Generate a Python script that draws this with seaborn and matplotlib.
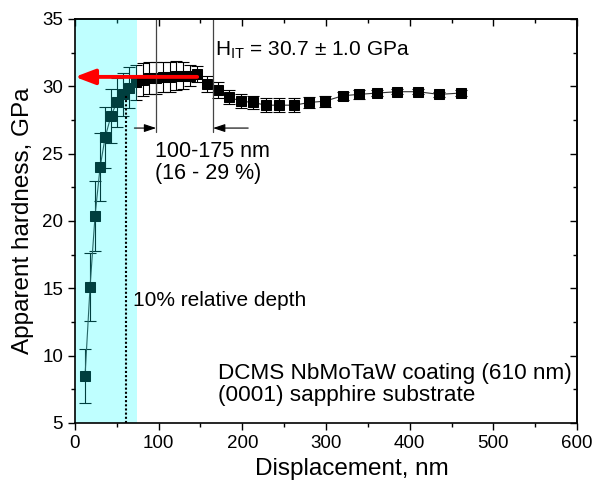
import matplotlib
matplotlib.use("Agg")
import matplotlib.pyplot as plt
import seaborn as sns
import pandas as pd
from matplotlib.ticker import MultipleLocator

# Nanoindentation hardness profile
displacement_nm = [12, 18, 24, 30, 36, 43, 50, 57, 65, 73, 81, 89, 97, 105, 113,
                   121, 129, 137, 146, 158, 171, 184, 198, 213, 228, 244, 262,
                   280, 299, 320, 339, 361, 385, 410, 435, 461]
hardness_gpa = [8.5, 15.1, 20.4, 24.0, 26.2, 27.8, 28.8, 29.4, 29.9, 30.3, 30.5,
                30.6, 30.6, 30.7, 30.7, 30.8, 30.8, 30.8, 30.9, 30.2, 29.7, 29.2,
                28.9, 28.8, 28.6, 28.6, 28.6, 28.8, 28.9, 29.3, 29.4, 29.5, 29.6,
                29.6, 29.4, 29.5]
hardness_err = [2.0, 2.5, 2.6, 2.5, 2.3, 2.0, 1.8, 1.6, 1.5, 1.3, 1.2, 1.2, 1.2,
                1.1, 1.1, 1.1, 1.0, 0.8, 0.6, 0.6, 0.6, 0.5, 0.5, 0.5, 0.5, 0.5,
                0.5, 0.4, 0.4, 0.3, 0.35, 0.2, 0.2, 0.2, 0.2, 0.2]

shade_limit_nm = 74          # influence zone shown in cyan
relative_depth_nm = 61       # 10 % of the 610 nm coating
relative_depth_h = 29.4
window_nm = [97, 165]        # averaging window bounds
h_it = 30.7
h_it_err = 1.0

df = pd.DataFrame({"Displacement": displacement_nm, "Hardness": hardness_gpa,
                   "Err": hardness_err})

sns.set_theme(style="ticks")
plt.rcParams["font.family"] = ["Liberation Sans", "DejaVu Sans"]
plt.rcParams["mathtext.fontset"] = "custom"
plt.rcParams["mathtext.rm"] = "Liberation Sans"
plt.rcParams["mathtext.default"] = "rm"
plt.rcParams["text.color"] = "black"
plt.rcParams["axes.labelcolor"] = "black"
plt.rcParams["xtick.color"] = "black"
plt.rcParams["ytick.color"] = "black"

fig = plt.figure(figsize=(5.98, 4.93), dpi=100)
ax = fig.add_axes([0.1254, 0.142, 0.8395, 0.8195])

ax.errorbar(df["Displacement"], df["Hardness"], yerr=df["Err"], fmt="none",
            ecolor="black", elinewidth=0.8, capsize=4, capthick=0.8, zorder=2)
sns.lineplot(data=df, x="Displacement", y="Hardness", ax=ax, color="#333333",
             linewidth=0.8, marker="s", markersize=7, markeredgecolor="black",
             markerfacecolor="black", zorder=3)

# shaded zone drawn over the data so it tints the markers
ax.axvspan(0, shade_limit_nm, color="cyan", alpha=0.25, lw=0, zorder=4)

ax.plot([relative_depth_nm, relative_depth_nm], [5, relative_depth_h],
        color="black", ls=(0, (1.0, 1.0)), lw=1.5, zorder=5)

for xv in window_nm:
    ax.plot([xv, xv], [26.6, 35], color="#444444", lw=0.9, zorder=5)

arrow_kw = dict(arrowstyle="-|>,head_length=0.6,head_width=0.2", color="black",
                lw=0.8, shrinkA=0, shrinkB=0)
ax.annotate("", xy=(window_nm[0], 26.9), xytext=(window_nm[0] - 26, 26.9),
            arrowprops=arrow_kw, zorder=6)
ax.annotate("", xy=(window_nm[1], 26.9), xytext=(window_nm[1] + 42, 26.9),
            arrowprops=arrow_kw, zorder=6)

ax.annotate("", xy=(0, h_it), xytext=(146, h_it),
            arrowprops=dict(arrowstyle="-|>,head_length=1.0,head_width=0.38",
                            color="red", lw=2.8, shrinkA=0, shrinkB=0), zorder=7)

ax.text(167, 32.7, r"H$_{\mathrm{IT}}$ = %.1f ± %.1f GPa" % (h_it, h_it_err),
        fontsize=15, va="center", ha="left", zorder=8)
ax.text(95.5, 24.35, "100-175 nm\n(16 - 29 %)", fontsize=15.5, va="center",
        ha="left", linespacing=1.1, zorder=8)
ax.text(69.5, 14.1, "10% relative depth", fontsize=15, va="center",
        ha="left", zorder=8)
ax.text(171, 7.85, "DCMS NbMoTaW coating (610 nm)\n(0001) sapphire substrate",
        fontsize=16.2, va="center", ha="left", linespacing=1.1, zorder=8)

ax.set_xlim(0, 600)
ax.set_ylim(5, 35)
ax.xaxis.set_major_locator(MultipleLocator(100))
ax.xaxis.set_minor_locator(MultipleLocator(50))
ax.yaxis.set_major_locator(MultipleLocator(5))
ax.yaxis.set_minor_locator(MultipleLocator(2.5))
ax.tick_params(which="both", direction="out", top=False, right=False,
               labelsize=13.5, width=1)
ax.tick_params(which="major", length=5)
ax.tick_params(which="minor", length=3)

# mirrored inward ticks on top and right
secx = ax.secondary_xaxis("top")
secx.xaxis.set_major_locator(MultipleLocator(100))
secx.xaxis.set_minor_locator(MultipleLocator(50))
secx.tick_params(which="both", direction="in", labeltop=False, width=1)
secx.tick_params(which="major", length=5)
secx.tick_params(which="minor", length=3)
secy = ax.secondary_yaxis("right")
secy.yaxis.set_major_locator(MultipleLocator(5))
secy.yaxis.set_minor_locator(MultipleLocator(2.5))
secy.tick_params(which="both", direction="in", labelright=False, width=1)
secy.tick_params(which="major", length=5)
secy.tick_params(which="minor", length=3)

for sp in ax.spines.values():
    sp.set_linewidth(1.2)
    sp.set_color("black")
    sp.set_zorder(9)

ax.set_xlabel("Displacement, nm", fontsize=17.5)
ax.xaxis.set_label_coords(0.552, -0.086)
ax.set_ylabel("Apparent hardness, GPa", fontsize=17.5, labelpad=6)

fig.savefig("out.png", dpi=100)
